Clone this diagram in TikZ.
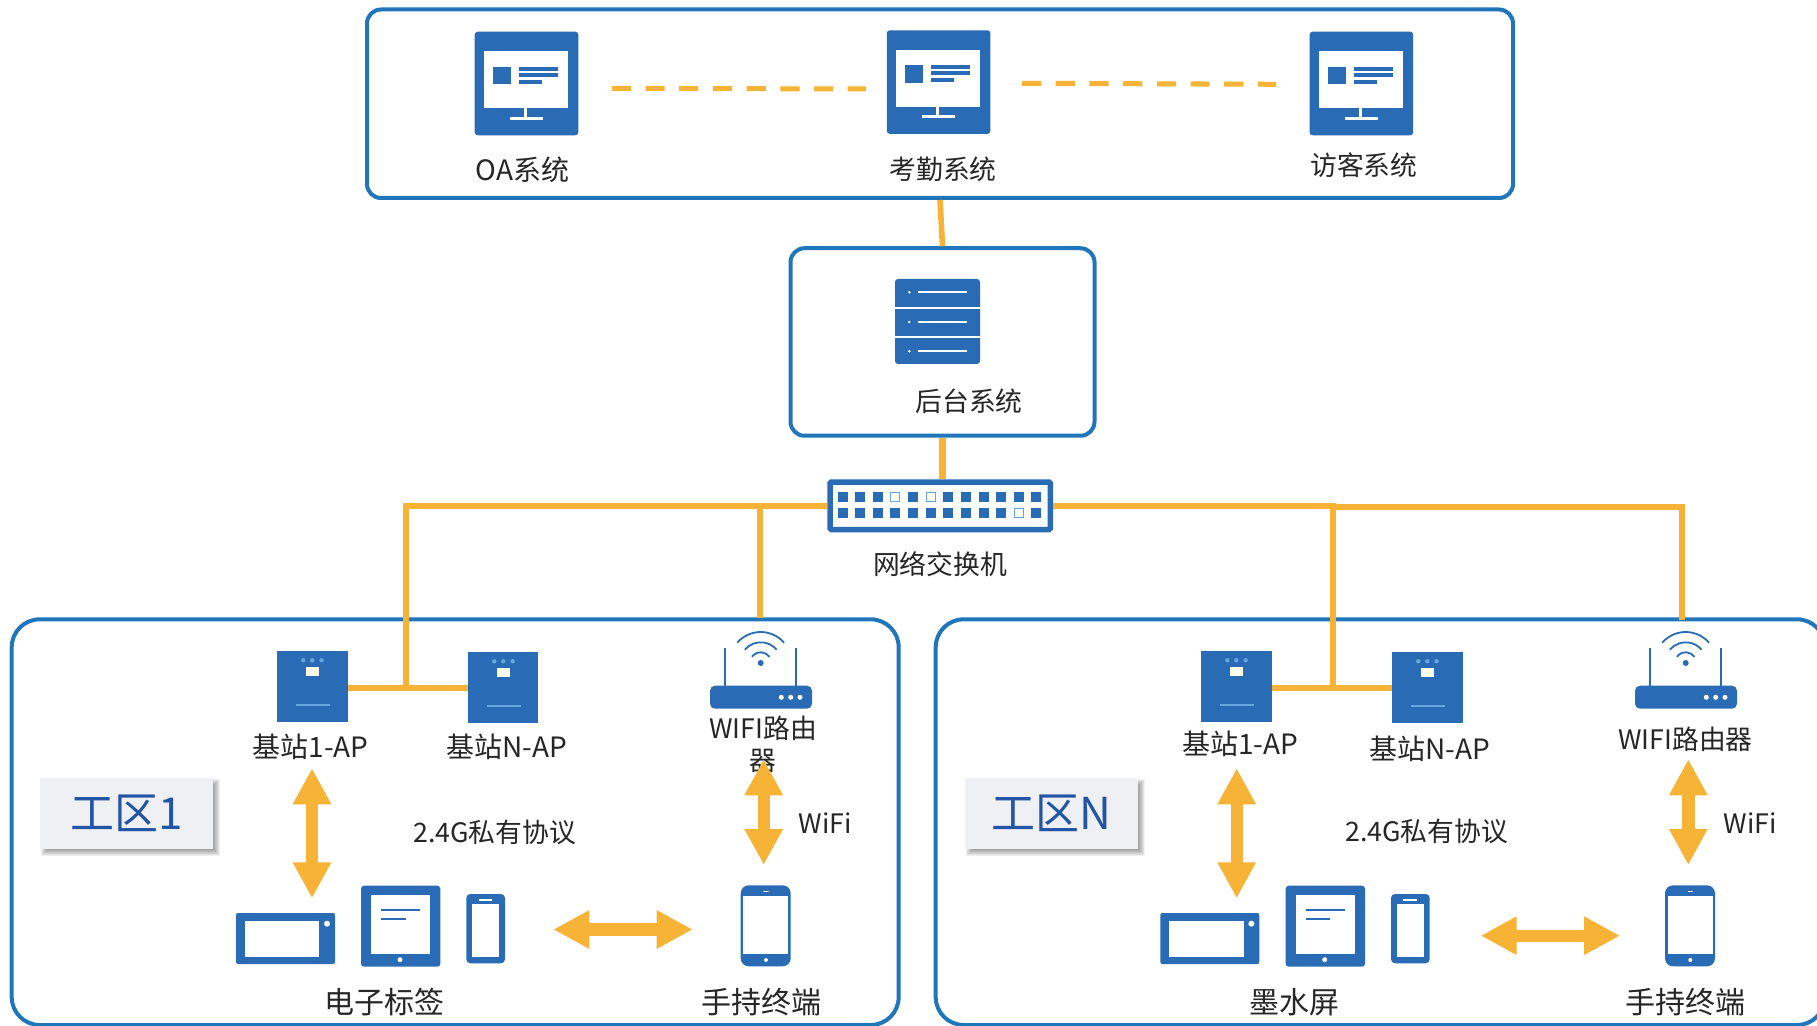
\documentclass[tikz,border=0pt]{standalone}
\usepackage{fontspec}
\setmainfont{Noto Sans CJK SC}
\usetikzlibrary{arrows.meta}
\definecolor{iconblue}{HTML}{2A6BB5}
\definecolor{panelblue}{HTML}{2076BB}
\definecolor{linkyellow}{HTML}{F6B335}
\definecolor{lightled}{HTML}{66A6E0}
\definecolor{inktext}{HTML}{262626}
\definecolor{tagfill}{HTML}{EFF0F3}
\definecolor{tagtext}{HTML}{2355A6}
\tikzset{
  pxsize/.style 2 args={minimum width=#1*0.5pt,minimum height=#2*0.5pt},
  panelbox/.style={draw=panelblue,line width=2pt,fill=white,inner sep=0pt},
  iconbody/.style={fill=iconblue,inner sep=0pt,rounded corners=1.5pt},
  lab/.style={font=\fontsize{13.4pt}{16pt}\selectfont,text=inktext,inner sep=0pt},
  labap/.style={font=\fontsize{14pt}{16pt}\selectfont,text=inktext,inner sep=0pt},
  labbig/.style={font=\fontsize{15pt}{17pt}\selectfont,text=inktext,inner sep=0pt},
  tagbox/.style={fill=tagfill,inner sep=0pt,font=\fontsize{22pt}{26pt}\selectfont,text=tagtext},
  wire/.style={draw=linkyellow,line width=3.2pt},
  dashwire/.style={draw=linkyellow,line width=2.5pt,dash pattern=on 9.6pt off 7.25pt},
  twoway/.style={draw=linkyellow,line width=6.2pt,
    {Triangle[length=18pt,width=18pt]}-{Triangle[length=18pt,width=18pt]}},
  monitorface/.pic={
    \fill[white] (9.8,20) rectangle (93.8,77);
    \fill[iconblue] (18.3,35.3) rectangle (36.3,53);
    \fill[iconblue] (44.3,35.3) rectangle (83.3,39.5);
    \fill[iconblue] (44.3,41.5) rectangle (83.3,45.5);
    \fill[iconblue] (44.3,48.3) rectangle (67.3,52.3);
    \fill[white] (50,77) rectangle (52.6,86);
    \fill[white] (35.3,85.3) rectangle (68.3,88.3);
  },
  basestation/.pic={
    \fill[lightled] (26.7,9.7) circle[radius=2.2] (35.7,9.7) circle[radius=2.2] (45,9.7) circle[radius=2.2];
    \fill[white!92!yellow] (29,16.3) rectangle (42.3,25.7);
    \draw[lightled,line width=1.1pt] (19.7,54.7) -- (53,54.7);
  },
  routericon/.pic={
    \fill[iconblue,rounded corners=2.5pt] (0,37.4) rectangle (102,60.4);
    \draw[iconblue,line width=1pt] (15,0) -- (15,38) (86.3,0) -- (86.3,38);
    \fill[iconblue] (50.7,14.7) circle[radius=3];
    \foreach \r/\a in {31/49,20.7/50,10.7/55}{
      \draw[iconblue,line width=0.9pt] (50.7,14.7) ++({-\r*sin(\a)},{-\r*cos(\a)})
        arc[start angle=90+\a,end angle=90-\a,radius=\r*0.5pt];
    }
    \fill[white] (71.3,49) circle[radius=2.5] (80.7,49) circle[radius=2.5] (90,49) circle[radius=2.5];
  },
  widetag/.pic={
    \fill[iconblue,rounded corners=1pt] (0,0) rectangle (99,51);
    \fill[white] (9,8) rectangle (83.3,43.7);
    \fill[white] (91,10.7) circle[radius=3];
  },
  tableticon/.pic={
    \fill[iconblue,rounded corners=1.5pt] (0,0) rectangle (79.3,81);
    \fill[white] (10,9.6) rectangle (69,68.6);
    \draw[iconblue,line width=1pt] (20,24.6) -- (59.3,24.6) (20,33.6) -- (44.7,33.6);
    \fill[white] (39,74) circle[radius=2.5];
  },
  smallphone/.pic={
    \fill[iconblue,rounded corners=2pt] (0,0) rectangle (38.7,69.3);
    \fill[white] (6,10) rectangle (33,62.7);
    \draw[white,line width=0.8pt] (12.4,5.7) -- (25.7,5.7);
  },
  handset/.pic={
    \fill[iconblue,rounded corners=4pt] (0,0) rectangle (50,81);
    \fill[white] (2.6,10.4) rectangle (47.6,68.7);
    \draw[white,line width=0.7pt] (22.6,6) -- (28.3,6);
    \fill[white] (25.3,74.7) circle[radius=2];
  },
}
\begin{document}
\begin{tikzpicture}[x=0.5pt,y=-0.5pt]
\useasboundingbox (0,0) rectangle (1817,1026);
\clip (0,0) rectangle (1817,1026);
\fill[white] (0,0) rectangle (1817,1026);

% panels
\node[panelbox,rounded corners=7pt,pxsize={1146}{188.5}] (systems) at (940,103.75) {};
\node[panelbox,rounded corners=7pt,pxsize={304}{187.5}] (backend) at (942.5,342) {};
\node[panelbox,rounded corners=14pt,pxsize={887}{405.7}] (zone1) at (455.2,822.15) {};
\node[panelbox,rounded corners=14pt,pxsize={889.3}{405.7}] (zoneN) at (1380.35,822.15) {};

% switch
\node[draw=iconblue,fill=white,line width=2.75pt,inner sep=0pt,rounded corners=0.6pt,pxsize={220.2}{47.5}] (switch) at (940.15,505.8) {};
\foreach \x in {838,855,873,890.3,908,925.7,943,961,979,996,1014,1031}{
  \fill[iconblue] (\x,492) rectangle ++(10,10);
  \fill[iconblue] (\x,508) rectangle ++(10,10);
}
\foreach \x/\y in {890.3/492,925.7/492,1014/508}{
  \filldraw[fill=white,draw=lightled,line width=0.6pt] (\x+0.5,\y+0.5) rectangle ++(9,9);
}

% monitors
\node[iconbody,pxsize={103.6}{103.6}] (oa) at (526.5,83.5) {};
\node[iconbody,pxsize={103.6}{103.6}] (attend) at (938.6,82.1) {};
\node[iconbody,pxsize={103.6}{103.6}] (visitor) at (1361.4,83.5) {};
\pic at (oa.north west) {monitorface};
\pic at (attend.north west) {monitorface};
\pic at (visitor.north west) {monitorface};

% server
\node[iconbody,pxsize={85}{85}] (server) at (937.5,321.5) {};
\fill[white] (895,306.7) rectangle (980,308.7);
\fill[white] (895,335.7) rectangle (980,337.7);
\foreach \y in {292.3,322,351.3}{
  \fill[white] (909.3,\y) circle[radius=1.4];
  \draw[white,line width=0.85pt] (917.5,\y) -- (966.5,\y);
}

% base stations
\node[fill=iconblue,inner sep=0pt,pxsize={71}{71}] (ap1) at (312.5,686.5) {};
\node[fill=iconblue,inner sep=0pt,pxsize={70}{71}] (apn) at (503,687.5) {};
\node[fill=iconblue,inner sep=0pt,pxsize={71}{71}] (bp1) at (1236.5,686.5) {};
\node[fill=iconblue,inner sep=0pt,pxsize={71}{71}] (bpn) at (1427.5,687.5) {};
\pic at (ap1.north west) {basestation};
\pic at (apn.north west) {basestation};
\pic at (bp1.north west) {basestation};
\pic at (bpn.north west) {basestation};

% routers and devices
\pic at (710,648.3) {routericon};
\pic at (1635,648.3) {routericon};
\pic at (236,913) {widetag};
\pic at (361,885.7) {tableticon};
\pic at (466.3,894) {smallphone};
\pic at (740.7,885.3) {handset};
\pic at (1160.3,913) {widetag};
\pic at (1285.7,885.7) {tableticon};
\pic at (1391,894) {smallphone};
\pic at (1665,885.3) {handset};

% zone tags
\foreach \bx/\bw in {40/173.3,965.3/172.7}{
  \foreach \g in {7,6,5,4,3,2,1,0}{
    \fill[black,opacity=0.06] (\bx+8-\g,778.3+8-\g) rectangle (\bx+\bw+\g,848.7+\g);
  }
}
\node[tagbox,pxsize={173.3}{70.4}] (tag1) at (126.65,813.5) {工区1};
\node[tagbox,pxsize={172.7}{70.4}] (tagN) at (1051.65,813.5) {工区N};

% labels
\node[labap] (loa) at (522.5,170) {OA系统};
\node[lab] (lattend) at (943,169) {考勤系统};
\node[lab] (lvisitor) at (1363.8,165) {访客系统};
\node[lab] (lbackend) at (969,401) {后台系统};
\node[lab] (lswitch) at (940,564) {网络交换机};
\node[labap] (lap1) at (310.5,746.7) {基站1-AP};
\node[labap] (lapn) at (506.7,746.5) {基站N-AP};
\node[lab,align=center] (lwifi1) at (763,744.5) {WIFI路由\\器};
\node[labap] (lbp1) at (1240,744.3) {基站1-AP};
\node[labap] (lbpn) at (1430,749.3) {基站N-AP};
\node[lab] (lwifin) at (1685.5,739.3) {WIFI路由器};
\node[lab] (lproto1) at (494.7,832.7) {2.4G私有协议};
\node[lab] (lprotoN) at (1426.7,831.7) {2.4G私有协议};
\node[lab] (lwf1) at (825.5,823.3) {WiFi};
\node[lab] (lwfn) at (1750,823.3) {WiFi};
\node[labbig] (ltags) at (384.7,1001.7) {电子标签};
\node[labbig] (lhand1) at (761,1001.7) {手持终端};
\node[labbig] (lepaper) at (1294.7,1001.7) {墨水屏};
\node[labbig] (lhandN) at (1685.7,1001.7) {手持终端};

% connector end points
\coordinate (dashAa) at (611.8,88.3);
\coordinate (dashAb) at (865.8,89);
\coordinate (dashBa) at (1022,83.3);
\coordinate (dashBb) at (1276,84.3);
\coordinate (joinL) at (406,688);
\coordinate (joinR) at (1333,688);
\coordinate (wifiL) at (759.7,618);
\coordinate (stepR) at (1336,505.8);
\coordinate (stepRb) at (1330,506.7);
\coordinate (wifiR) at (1682,620);
\coordinate (upA) at (312,768.3);
\coordinate (downA) at (312,898.3);
\coordinate (upB) at (1236.7,768.3);
\coordinate (downB) at (1236.7,898.3);
\coordinate (upC) at (763.7,759.3);
\coordinate (downC) at (763.7,865);
\coordinate (upD) at (1688.3,759.3);
\coordinate (downD) at (1688.3,865);
\coordinate (leftE) at (553.3,929.5);
\coordinate (rightE) at (692.7,929.5);
\coordinate (leftF) at (1480.7,935.7);
\coordinate (rightF) at (1620,935.7);

% connectors
\draw[dashwire] (dashAa) -- (dashAb);
\draw[dashwire] (dashBa) -- (dashBb);
\draw[wire,line width=2.8pt] (systems.south) -- (backend.north);
\draw[wire] (backend.south) -- (backend.south |- switch.north);
\draw[wire] (switch.west) -| (joinL);
\draw[wire] (ap1.east |- joinL) -- (apn.west |- joinL);
\draw[wire] (wifiL |- switch.west) -- (wifiL);
\draw[wire] (switch.east) -- (stepR);
\draw[wire] (joinR |- switch.east) -- (joinR);
\draw[wire] (bp1.east |- joinR) -- (bpn.west |- joinR);
\draw[wire,line width=2.9pt] (stepRb) -| (wifiR);
\draw[twoway] (upA) -- (downA);
\draw[twoway] (upB) -- (downB);
\draw[twoway] (upC) -- (downC);
\draw[twoway] (upD) -- (downD);
\draw[twoway] (leftE) -- (rightE);
\draw[twoway] (leftF) -- (rightF);
\end{tikzpicture}
\end{document}
